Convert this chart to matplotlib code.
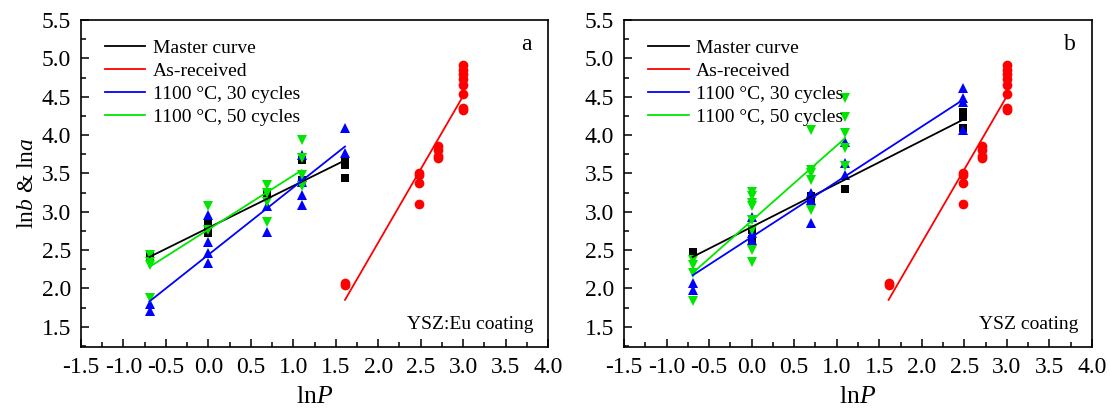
import numpy as np
import matplotlib
matplotlib.use("Agg")
import matplotlib.pyplot as plt
from matplotlib.ticker import MultipleLocator

plt.rcParams['font.family'] = ['Liberation Serif', 'DejaVu Serif']
plt.rcParams['mathtext.fontset'] = 'custom'
plt.rcParams['mathtext.rm'] = 'Liberation Serif'
plt.rcParams['mathtext.it'] = 'Liberation Serif:italic'

# ln P positions (P = 0.5, 1, 2, 3, 5, 12, 15, 20)
LN = {0.5: np.log(0.5), 1: 0.0, 2: np.log(2), 3: np.log(3), 5: np.log(5),
      12: np.log(12), 15: np.log(15), 20: np.log(20)}

# ---------------- Panel a (YSZ:Eu coating) ----------------
a_master_P = [0.5, 0.5, 1, 1, 1, 2, 2, 3, 3, 5, 5, 5]
a_master_y = [2.42, 2.40, 2.87, 2.80, 2.72, 3.26, 3.22, 3.67, 3.41, 3.67, 3.61, 3.44]
a_30_P = [0.5, 0.5, 1, 1, 1, 1, 2, 2, 3, 3, 3, 3, 3, 5, 5]
a_30_y = [1.80, 1.70, 2.96, 2.61, 2.46, 2.33, 3.07, 2.74, 3.74, 3.45, 3.39, 3.22, 3.09, 4.09, 3.76]
a_50_P = [0.5, 0.5, 0.5, 0.5, 1, 1, 2, 2, 2, 2, 3, 3, 3, 3]
a_50_y = [2.44, 2.35, 2.30, 1.87, 3.07, 2.76, 3.35, 3.24, 3.13, 2.87, 3.94, 3.70, 3.48, 3.33]
# ---------------- Panel b (YSZ coating) ----------------
b_master_P = [0.5, 1, 1, 1, 2, 2, 3, 12, 12, 12]
b_master_y = [2.48, 2.76, 2.65, 2.63, 3.20, 3.17, 3.30, 4.30, 4.24, 4.09]
b_30_P = [0.5, 0.5, 1, 1, 1, 2, 2, 2, 3, 3, 3, 12, 12, 12, 12]
b_30_y = [2.07, 1.98, 2.93, 2.72, 2.63, 3.24, 3.15, 2.85, 3.91, 3.63, 3.48, 4.61, 4.48, 4.43, 4.07]
b_50_P = [0.5, 0.5, 0.5, 0.5, 1, 1, 1, 1, 1, 1, 1, 1, 2, 2, 2, 2, 2, 3, 3, 3, 3, 3]
b_50_y = [2.37, 2.30, 2.20, 1.83, 3.26, 3.20, 3.11, 3.07, 2.89, 2.76, 2.50, 2.35,
          4.07, 3.55, 3.50, 3.41, 3.02, 4.48, 4.24, 4.02, 3.83, 3.59]
# As-received (same in both panels)
asr_P = [5, 5, 12, 12, 12, 12, 15, 15, 15, 15, 20, 20, 20, 20, 20, 20, 20, 20]
asr_y = [2.07, 2.04, 3.50, 3.48, 3.37, 3.10, 3.86, 3.80, 3.73, 3.70,
         4.91, 4.85, 4.80, 4.73, 4.65, 4.54, 4.35, 4.33]

# Fitted lines: (P_start, P_end, value at start, value at end)
a_fit = {'master': (0.5, 5, 2.41, 3.67), '30': (0.5, 5, 1.83, 3.85),
         '50': (0.5, 3, 2.28, 3.54), 'asr': (5, 20, 1.85, 4.50)}
b_fit = {'master': (0.5, 12, 2.41, 4.20), '30': (0.5, 12, 2.17, 4.46),
         '50': (0.5, 3, 2.20, 3.96), 'asr': (5, 20, 1.85, 4.50)}

labels = ['Master curve', 'As-received', '1100 \u00b0C, 30 cycles', '1100 \u00b0C, 50 cycles']
colors = {'master': 'black', 'asr': 'red', '30': 'blue', '50': '#00e600'}

fig = plt.figure(figsize=(11.10, 4.13), dpi=100)
ax1 = fig.add_axes([81/1110, 1-347/413, (548-81)/1110, (347-20)/413])
ax2 = fig.add_axes([624/1110, 1-347/413, (1092-624)/1110, (347-20)/413])

def lnx(P):
    return [LN[p] for p in P]

def draw(ax, master, m_y, s30, y30, s50, y50, fit, panel, note):
    ax.plot(lnx(master), m_y, 's', color='black', ms=5.5, mew=0, zorder=3)
    ax.plot(lnx(s30), y30, '^', color='blue', ms=7, mew=0, zorder=3)
    ax.plot(lnx(s50), y50, 'v', color=colors['50'], ms=7, mew=0, zorder=3)
    ax.plot(lnx(asr_P), asr_y, 'o', color='red', ms=7, mew=0, zorder=3)
    for key, lab in zip(['master', 'asr', '30', '50'], labels):
        p0, p1, v0, v1 = fit[key]
        ax.plot([LN[p0], LN[p1]], [v0, v1], '-', color=colors[key], lw=1.3,
                label=lab, zorder=4)
    ax.set_xlim(-1.5, 4.0)
    ax.set_ylim(1.235, 5.5)
    ax.xaxis.set_major_locator(MultipleLocator(0.5))
    ax.xaxis.set_minor_locator(MultipleLocator(0.25))
    ax.yaxis.set_major_locator(MultipleLocator(0.5))
    ax.yaxis.set_minor_locator(MultipleLocator(0.25))
    ax.set_yticks(np.arange(1.5, 5.51, 0.5))
    ax.tick_params(which='both', direction='in', top=False, right=False,
                   labelsize=17, width=1.1)
    ax.tick_params(which='major', length=6, pad=7)
    ax.tick_params(which='minor', length=3.5)
    for s in ax.spines.values():
        s.set_linewidth(1.2)
    ax.xaxis.set_major_formatter(plt.FuncFormatter(lambda v, p: f'{v:.1f}'))
    ax.yaxis.set_major_formatter(plt.FuncFormatter(lambda v, p: f'{v:.1f}'))
    ax.legend(loc='upper left', frameon=False, fontsize=14, handlelength=2.1,
              handletextpad=0.4, labelspacing=0.29, borderaxespad=0.0,
              bbox_to_anchor=(0.034, 0.966))
    ax.text(0.965, 0.924, panel, transform=ax.transAxes, fontsize=17, ha='right', va='center')
    ax.text(0.97, 0.07, note, transform=ax.transAxes, fontsize=14, ha='right', va='center')
    ax.set_xlabel('ln$\\it{P}$', fontsize=18.5, labelpad=6)

draw(ax1, a_master_P, a_master_y, a_30_P, a_30_y, a_50_P, a_50_y, a_fit, 'a', 'YSZ:Eu coating')
draw(ax2, b_master_P, b_master_y, b_30_P, b_30_y, b_50_P, b_50_y, b_fit, 'b', 'YSZ coating')
ax1.set_ylabel('ln$\\it{b}$ & ln$\\it{a}$', fontsize=17, labelpad=3)

fig.savefig('out.png', dpi=100)
